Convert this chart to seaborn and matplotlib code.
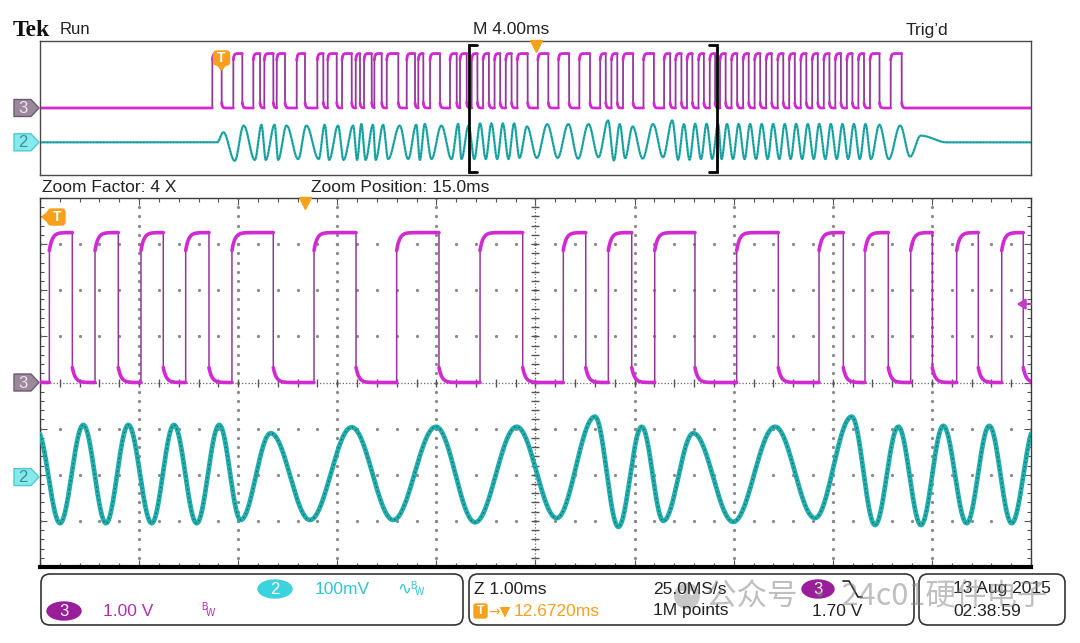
import numpy as np
import pandas as pd
import matplotlib
matplotlib.use("Agg")
import matplotlib.pyplot as plt
from matplotlib.patches import Polygon, FancyBboxPatch, Ellipse, Circle
import seaborn as sns

# ---------------- data ----------------
record_ms = 40.0            # 10 div x 4.00 ms
trigger_delay_ms = 12.672   # trigger -> centre of record
zoom_factor = 4
zoom_position_ms = 15.0     # zoom centre relative to trigger
ch3_volts_per_div = 1.00
ch2_mv_per_div = 100.0
ch3_offset_div = 0.0
ch2_offset_div = -2.05
ch3_high_v = 3.25
trigger_level_v = 1.70

# channel 3 (square FSK) edges, ms from left of record
ch3_rise_ms = [6.955, 7.802, 8.609, 9.053, 9.554, 10.361, 11.193, 11.612, 12.190, 12.743,
               13.078, 13.494, 13.994, 14.801, 15.269, 15.742, 16.549, 16.952,
               17.422, 17.883, 18.347, 18.798, 19.265, 20.093, 20.927, 21.768, 22.608,
               23.063, 23.531, 24.358, 25.189, 25.653, 26.114, 26.578, 27.032,
               27.447, 27.911, 28.379, 28.843, 29.307, 29.775, 30.239, 30.704, 31.168,
               31.636, 32.100, 32.565, 33.032, 33.501, 34.336]
ch3_fall_ms = [7.330, 8.166, 8.880, 9.417, 9.889, 10.696, 11.435, 11.976, 12.581, 12.916,
               13.388, 13.792, 14.462, 15.136, 15.471, 16.145, 16.819, 17.223,
               17.654, 18.118, 18.572, 19.033, 19.682, 20.517, 21.354, 22.199, 22.835,
               23.299, 23.937, 24.778, 25.434, 25.888, 26.332, 26.796, 27.250,
               27.673, 28.137, 28.604, 29.068, 29.533, 30.001, 30.465, 30.930, 31.394,
               31.862, 32.326, 32.790, 33.259, 33.884, 34.780]

# channel 2 (filtered sine) peaks / troughs
ch2_ext_ms = [0.0, 7.15, 7.40, 7.86, 8.22, 8.67, 8.94, 9.11, 9.47, 9.61, 9.95, 10.42, 10.75,
              11.25, 11.49, 11.67, 12.03, 12.25, 12.64, 12.80, 12.97, 13.14, 13.44, 13.55,
              13.85, 14.05, 14.52, 14.86, 15.19, 15.33, 15.53, 15.80, 16.20, 16.61, 16.88,
              17.01, 17.30,
              17.530, 17.765, 17.994, 18.219, 18.455, 18.680, 18.909, 19.137, 19.353, 19.656,
              20.052, 20.473, 20.893, 21.324, 21.718, 22.138, 22.542, 22.928, 23.164, 23.400,
              23.618, 23.920, 24.324, 24.745, 25.148, 25.519, 25.754, 25.989, 26.218, 26.443,
              26.679, 26.907, 27.133, 27.37,
              27.51, 27.73, 27.97, 28.20, 28.44, 28.66, 28.90, 29.13, 29.37, 29.59, 29.84,
              30.06, 30.30, 30.52, 30.76, 30.99, 31.23, 31.45, 31.70, 31.92, 32.16, 32.39,
              32.62, 32.85, 33.09, 33.32, 33.54, 33.88, 34.26, 34.72, 35.12, 35.55, 36.60, 40.0]
ch2_ext_mv = [0, 0, 60, -110, 100, -105, 105, -105, 105, -105, 100, -100, 100,
              -100, 105, -105, 100, -105, 100, -105, 110, -105, 105, -105,
              105, -100, 100, -100, 105, -105, 110, -100, 100, -100, 110,
              -100, 100,
              -100, 113, -100, 113, -100, 113, -100, 113, -93, 95,
              -93, 108, -93, 109, -98, 109, -89, 131, -108, 109,
              -95, 95, -97, 109, -89, 131, -104, 109, -104, 111,
              -100, 111, -100, 110,
              -100, 110, -100, 110, -100, 110, -100, 110, -100, 110, -100,
              110, -100, 110, -100, 110, -100, 110, -100, 110, -100, 110,
              -100, 110, -100, 110, -100, 105, -100, 100, -85, 40, 0, 0]

header_left = ["Tek", "Run"]
header_mid = "M 4.00ms"
header_right = "Trig\u2019d"
zoom_labels = ["Zoom Factor: 4 X", "Zoom Position: 15.0ms"]
ch2_scale_label = "100mV"
ch3_scale_label = "1.00 V"
zoom_scale_label = "Z 1.00ms"
delay_label = "12.6720ms"
rate_label = "25.0MS/s"
points_label = "1M points"
trig_level_label = "1.70 V"
date_labels = ["13 Aug 2015", "02:38:59"]
watermark = "公众号 · 24c01硬件电子"

# ---------------- colours ----------------
MAG = "#d22ad2"
MAG_EDGE = "#93389a"
CH2 = "#22adad"
CH2_DARK = "#175c5b"
ORANGE = "#f5a11c"
CYAN_TXT = "#2ec6d2"
PURPLE_TXT = "#b030b0"
PURPLE_BADGE = "#9a1d9a"
CYAN_BADGE = "#3dd3de"
GRID = "#8a8a8a"

sns.set_theme(style="white")
plt.rcParams["font.family"] = ["Liberation Sans", "DejaVu Sans"]

W, H = 1080, 643
fig = plt.figure(figsize=(W / 100, H / 100), dpi=100)
fig.patch.set_facecolor("white")


def frac(x0, y0, x1, y1):
    return [x0 / W, 1 - y1 / H, (x1 - x0) / W, (y1 - y0) / H]


ax_ov = fig.add_axes(frac(40, 41, 1031, 175))
ax = fig.add_axes(frac(40, 198, 1031, 567))
ov = fig.add_axes([0, 0, 1, 1])
ov.set_xlim(0, W)
ov.set_ylim(H, 0)
ov.axis("off")
ov.set_zorder(10)

trigger_ms = record_ms / 2 - trigger_delay_ms
zoom_width = record_ms / zoom_factor
Z0 = trigger_ms + zoom_position_ms - zoom_width / 2


# ---------------- trace builders ----------------
def ch3_trace(t0, t1, n):
    rises = np.asarray(ch3_rise_ms)
    falls = np.asarray(ch3_fall_ms)
    e_t = np.concatenate([rises, falls])
    e_k = np.concatenate([np.ones_like(rises), np.zeros_like(falls)])
    o = np.argsort(e_t)
    e_t, e_k = e_t[o], e_k[o]
    inwin = e_t[(e_t > t0) & (e_t < t1)]
    t = np.sort(np.concatenate([np.linspace(t0, t1, n), inwin - 1e-7, inwin]))
    idx = np.searchsorted(e_t, t, side="right") - 1
    ci = np.clip(idx, 0, None)
    dt = t - e_t[ci]
    kind = e_k[ci]
    v = np.zeros_like(t)
    hi = (idx >= 0) & (kind == 1)
    lo = (idx >= 0) & (kind == 0)
    v[hi] = ch3_high_v * (1 - 0.12 * np.exp(-dt[hi] / 0.03))
    v[lo] = ch3_high_v * 0.10 * np.exp(-dt[lo] / 0.03)
    seg = np.cumsum(np.isin(t, inwin))
    return pd.DataFrame({"t": t, "y": v / ch3_volts_per_div + ch3_offset_div, "seg": seg})


def ch2_trace(t0, t1, n):
    et = np.asarray(ch2_ext_ms, float)
    ev = np.asarray(ch2_ext_mv, float)
    t = np.linspace(t0, t1, n)
    i = np.clip(np.searchsorted(et, t, side="right") - 1, 0, len(et) - 2)
    s = np.clip((t - et[i]) / (et[i + 1] - et[i]), 0, 1)
    v = ev[i] + (ev[i + 1] - ev[i]) * (1 - np.cos(np.pi * s)) / 2
    return pd.DataFrame({"t": t, "y": v / ch2_mv_per_div + ch2_offset_div})


# ---------------- overview (top) ----------------
d3 = ch3_trace(0, record_ms, 12000)
d2 = ch2_trace(0, record_ms, 12000)
sns.lineplot(data=d3, x="t", y="y", sort=False, estimator=None, color=MAG_EDGE, lw=1.3, ax=ax_ov)
sns.lineplot(data=d3, x="t", y="y", units="seg", sort=False, estimator=None, color=MAG, lw=2.0, ax=ax_ov)
sns.lineplot(data=d2, x="t", y="y", sort=False, estimator=None, color=CH2, lw=1.6, ax=ax_ov)
sns.lineplot(data=d2, x="t", y="y", sort=False, estimator=None, color=CH2_DARK, lw=0.6,
             ls=(0, (1, 3)), ax=ax_ov)
ax_ov.set_xlim(0, record_ms)
ax_ov.set_ylim(-4, 4)
ax_ov.set(xlabel="", ylabel="", xticks=[], yticks=[])
for sp in ax_ov.spines.values():
    sp.set_color("#4a4a4a")
    sp.set_linewidth(1.0)

# zoom bracket
bw = 0.32
for xb, sgn in [(Z0, 1), (Z0 + zoom_width, -1)]:
    ax_ov.plot([xb + sgn * bw, xb, xb, xb + sgn * bw], [3.75, 3.75, -3.8, -3.8],
               color="black", lw=2.0, solid_joinstyle="miter", zorder=6)
# horizontal-position marker
ax_ov.plot([record_ms / 2], [3.72], marker="v", ms=8, color=ORANGE, mec=ORANGE, clip_on=False, zorder=7)

# ---------------- zoom window (main) ----------------
ax.set_xlim(Z0, Z0 + zoom_width)
ax.set_ylim(-4, 4)
# graticule
ys_dot = np.arange(-4, 4.001, 0.2)
xs_dot = Z0 + np.arange(0, zoom_width + 0.001, 0.2)
for k in range(1, 10):
    if k == 5:
        continue
    ax.plot(np.full_like(ys_dot, Z0 + k), ys_dot, ls="none", marker="o", ms=1.3, color=GRID, zorder=1)
for m in [-3, -2, -1, 1, 2, 3]:
    ax.plot(xs_dot, np.full_like(xs_dot, m), ls="none", marker="o", ms=1.3, color=GRID, zorder=1)
xc = Z0 + zoom_width / 2
ax.plot([xc, xc], [-4, 4], ls=(0, (1, 1.6)), lw=0.9, color="#6a6a6a", zorder=1)
ax.plot([Z0, Z0 + zoom_width], [0, 0], ls=(0, (1, 1.6)), lw=0.9, color="#6a6a6a", zorder=1)
ax.plot(np.full_like(ys_dot, xc), ys_dot, ls="none", marker="_", ms=6, mew=1.0, color="#555", zorder=1)
ax.plot(xs_dot, np.zeros_like(xs_dot), ls="none", marker="|", ms=6, mew=1.0, color="#555", zorder=1)

m3 = ch3_trace(Z0, Z0 + zoom_width, 6000)
m2 = ch2_trace(Z0, Z0 + zoom_width, 6000)
sns.lineplot(data=m3, x="t", y="y", sort=False, estimator=None, color=MAG_EDGE, lw=1.1, ax=ax, zorder=3)
sns.lineplot(data=m3, x="t", y="y", units="seg", sort=False, estimator=None, color=MAG, lw=2.6, ax=ax, zorder=3)
sns.lineplot(data=m2, x="t", y="y", sort=False, estimator=None, color=CH2, lw=3.4, ax=ax, zorder=3)
sns.lineplot(data=m2, x="t", y="y", sort=False, estimator=None, color=CH2_DARK, lw=0.9,
             ls=(0, (1, 2.5)), ax=ax, zorder=4)
ax.set_xlim(Z0, Z0 + zoom_width)
ax.set_ylim(-4, 4)
ax.set(xlabel="", ylabel="")
ax.set_xticks(Z0 + np.arange(0, zoom_width + 0.001, 1.0))
ax.set_xticks(xs_dot, minor=True)
ax.set_yticks(np.arange(-4, 4.001, 1.0))
ax.set_yticks(ys_dot, minor=True)
ax.tick_params(which="both", direction="in", top=True, right=True, bottom=True, left=True,
               labelbottom=False, labelleft=False, color="#555", width=0.8)
ax.tick_params(which="major", length=5)
ax.tick_params(which="minor", length=3)
ax.grid(False)
for name, sp in ax.spines.items():
    sp.set_color("#3a3a3a")
    sp.set_linewidth(1.0)
ax.spines["bottom"].set_color("black")
ax.spines["bottom"].set_linewidth(3.0)
# horizontal-position marker (record centre) inside zoom
ax.plot([record_ms / 2], [3.9], marker="v", ms=8, color=ORANGE, mec=ORANGE, clip_on=False, zorder=7)


# ---------------- overlay helpers ----------------
def to_px(a, x, y):
    dx, dy = a.transData.transform((x, y))
    return dx, H - dy


def chan_marker(a, y_div, label, face, edge, txtc):
    _, py = to_px(a, a.get_xlim()[0], y_div)
    h = 8.5
    pts = [(14, py - h), (31, py - h), (39, py), (31, py + h), (14, py + h)]
    ov.add_patch(Polygon(pts, closed=True, fc=face, ec=edge, lw=1.0, joinstyle="round"))
    ov.text(23, py + 0.5, label, ha="center", va="center", fontsize=12, color=txtc)


for a in (ax_ov, ax):
    chan_marker(a, ch3_offset_div, "3", "#9c889c", "#6f5a6f", "#efe4ef")
    chan_marker(a, ch2_offset_div, "2", "#86e9ec", "#4fc9cf", "#3a9196")

# trigger marker on overview (pointing down)
tx, _ = to_px(ax_ov, trigger_ms, 0)
ov.add_patch(FancyBboxPatch((tx - 8, 51), 16, 14, boxstyle="round,pad=0,rounding_size=3",
                            fc=ORANGE, ec=ORANGE))
ov.add_patch(Polygon([(tx - 5, 64), (tx + 5, 64), (tx, 70)], fc=ORANGE, ec=ORANGE))
ov.text(tx, 58, "T", ha="center", va="center", fontsize=10, color="white", fontweight="bold")
# trigger marker on zoom (off-screen left -> pointing left)
ov.add_patch(FancyBboxPatch((48, 209), 17, 16, boxstyle="round,pad=0,rounding_size=3",
                            fc=ORANGE, ec=ORANGE))
ov.add_patch(Polygon([(49, 211), (49, 223), (42, 217)], fc=ORANGE, ec=ORANGE))
ov.text(57, 217, "T", ha="center", va="center", fontsize=10, color="white", fontweight="bold")

# trigger level arrow (right edge of zoom window)
_, ty = to_px(ax, Z0, trigger_level_v / ch3_volts_per_div + ch3_offset_div)
ov.add_patch(Polygon([(1026, ty - 5), (1026, ty + 5), (1018, ty)], fc="#c33ac3", ec="#c33ac3"))
ov.plot([1024, 1031], [ty, ty], color="#c33ac3", lw=1.5)

# ---------------- texts ----------------
ov.text(13, 31, header_left[0], ha="left", va="center", fontsize=17, fontweight="bold",
        family=["Liberation Serif", "DejaVu Serif"], color="#111")
ov.text(60, 30, header_left[1], ha="left", va="center", fontsize=12, color="#222")
ov.text(473, 30, header_mid, ha="left", va="center", fontsize=12.5, color="#222")
ov.text(906, 30, header_right, ha="left", va="center", fontsize=12.5, color="#222")
ov.text(42, 187, zoom_labels[0], ha="left", va="center", fontsize=12.5, color="#222")
ov.text(311, 187, zoom_labels[1], ha="left", va="center", fontsize=12.5, color="#222")

# bottom readout boxes
for (x0, x1) in [(41, 463), (469, 914), (919, 1065)]:
    ov.add_patch(FancyBboxPatch((x0, 574), x1 - x0, 51, boxstyle="round,pad=0,rounding_size=9",
                                fc="none", ec="#333", lw=1.2))

r1, r2 = 589, 611
ov.add_patch(Ellipse((275, r1), 34, 18, fc=CYAN_BADGE, ec=CYAN_BADGE))
ov.text(275, r1 + 0.5, "2", ha="center", va="center", fontsize=12, color="white")
ov.text(315, r1, ch2_scale_label, ha="left", va="center", fontsize=12.5, color=CYAN_TXT)
ov.text(397, r1, "\u223f", ha="left", va="center", fontsize=12, color=CYAN_TXT,
        family=["DejaVu Sans"])
ov.text(410, r1 - 3, "B", ha="left", va="center", fontsize=7, color=CYAN_TXT)
ov.text(415, r1 + 3, "W", ha="left", va="center", fontsize=7, color=CYAN_TXT)

ov.add_patch(Ellipse((64, r2), 34, 18, fc=PURPLE_BADGE, ec=PURPLE_BADGE))
ov.text(64, r2 + 0.5, "3", ha="center", va="center", fontsize=12, color="white")
ov.text(103, r2, ch3_scale_label, ha="left", va="center", fontsize=12.5, color=PURPLE_TXT)
ov.text(201, r2 - 4, "B", ha="left", va="center", fontsize=7, color=PURPLE_TXT)
ov.text(206, r2 + 2, "W", ha="left", va="center", fontsize=7, color=PURPLE_TXT)

ov.text(474, r1, zoom_scale_label, ha="left", va="center", fontsize=12.5, color="#222")
ov.add_patch(FancyBboxPatch((474, r2 - 7), 13, 14, boxstyle="round,pad=0,rounding_size=2",
                            fc=ORANGE, ec=ORANGE))
ov.text(480.5, r2, "T", ha="center", va="center", fontsize=9, color="white", fontweight="bold")
ov.text(488, r2, "\u2192\u25bc", ha="left", va="center", fontsize=10, color=ORANGE,
        family=["DejaVu Sans"])
ov.text(514, r2, delay_label, ha="left", va="center", fontsize=12.5, color=ORANGE)
ov.text(653, r1, rate_label, ha="left", va="center", fontsize=12.5, color="#222")
ov.text(653, r2, points_label, ha="left", va="center", fontsize=12.5, color="#222")
ov.add_patch(Ellipse((818, r1), 32, 18, fc=PURPLE_BADGE, ec=PURPLE_BADGE))
ov.text(818, r1 + 0.5, "3", ha="center", va="center", fontsize=12, color="white")
ov.plot([843, 849, 858, 862], [581, 581, 597, 597], color="#222", lw=1.2)
ov.text(812, r2, trig_level_label, ha="left", va="center", fontsize=12.5, color="#222")
ov.text(953, r1, date_labels[0], ha="left", va="center", fontsize=12.5, color="#222")
ov.text(953, r2, date_labels[1], ha="left", va="center", fontsize=12.5, color="#222")

# watermark (semi-transparent overlay, as in the source image)
ov.add_patch(Circle((687, 596), 13, fc="#9a9a9a", ec="none", alpha=0.55))
ov.add_patch(Circle((682, 593), 2.2, fc="white", ec="none", alpha=0.9))
ov.add_patch(Circle((692, 593), 2.2, fc="white", ec="none", alpha=0.9))
ov.text(706, 597, watermark, ha="left", va="center", fontsize=22, color="#808080", alpha=0.5,
        family=["Noto Sans CJK SC", "DejaVu Sans"])

fig.savefig("out.png", dpi=100, facecolor="white")
